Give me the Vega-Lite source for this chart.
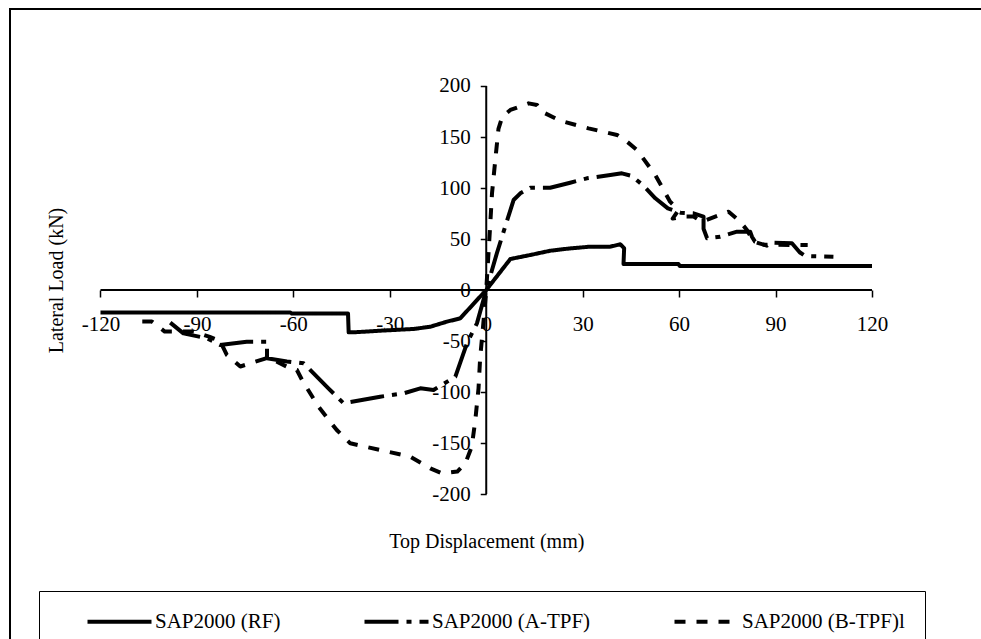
{
  "$schema": "https://vega.github.io/schema/vega-lite/v6.json",
  "width": 980,
  "height": 640,
  "autosize": {"type": "none"},
  "padding": {"left": 10, "top": 9, "right": 0, "bottom": 0},
  "background": "white",
  "config": {
    "view": {"stroke": "black", "strokeWidth": 2},
    "font": "Liberation Serif"
  },
  "datasets": {
    "xline": [{"d": -120, "d2": 120, "f": 0}],
    "yline": [{"d": 0, "f": -200, "f2": 200}],
    "curves": [
      {"s": "SAP2000 (RF)", "i": 1, "d": -120, "f": -22},
      {"s": "SAP2000 (RF)", "i": 2, "d": -61, "f": -22},
      {"s": "SAP2000 (RF)", "i": 3, "d": -60.5, "f": -23},
      {"s": "SAP2000 (RF)", "i": 4, "d": -43, "f": -23},
      {"s": "SAP2000 (RF)", "i": 5, "d": -42.8, "f": -41.5},
      {"s": "SAP2000 (RF)", "i": 6, "d": -41.3, "f": -41.5},
      {"s": "SAP2000 (RF)", "i": 7, "d": -33, "f": -39.9},
      {"s": "SAP2000 (RF)", "i": 8, "d": -22.6, "f": -38.2},
      {"s": "SAP2000 (RF)", "i": 9, "d": -17.4, "f": -36},
      {"s": "SAP2000 (RF)", "i": 10, "d": -12.2, "f": -31},
      {"s": "SAP2000 (RF)", "i": 11, "d": -8.1, "f": -27.8},
      {"s": "SAP2000 (RF)", "i": 12, "d": 0, "f": 0},
      {"s": "SAP2000 (RF)", "i": 13, "d": 7.5, "f": 30.4},
      {"s": "SAP2000 (RF)", "i": 14, "d": 13.7, "f": 34.3},
      {"s": "SAP2000 (RF)", "i": 15, "d": 19.9, "f": 38.5},
      {"s": "SAP2000 (RF)", "i": 16, "d": 26.1, "f": 40.8},
      {"s": "SAP2000 (RF)", "i": 17, "d": 32.4, "f": 42.5},
      {"s": "SAP2000 (RF)", "i": 18, "d": 38.6, "f": 42.5},
      {"s": "SAP2000 (RF)", "i": 19, "d": 41.7, "f": 44.8},
      {"s": "SAP2000 (RF)", "i": 20, "d": 42.9, "f": 41},
      {"s": "SAP2000 (RF)", "i": 21, "d": 42.7, "f": 25.5},
      {"s": "SAP2000 (RF)", "i": 22, "d": 59.8, "f": 25.5},
      {"s": "SAP2000 (RF)", "i": 23, "d": 60.2, "f": 23.5},
      {"s": "SAP2000 (RF)", "i": 24, "d": 120, "f": 23.5},

      {"s": "SAP2000 (A-TPF)", "i": 1, "d": -98.3, "f": -32},
      {"s": "SAP2000 (A-TPF)", "i": 2, "d": -94.2, "f": -42.5},
      {"s": "SAP2000 (A-TPF)", "i": 3, "d": -86.9, "f": -47.4},
      {"s": "SAP2000 (A-TPF)", "i": 4, "d": -82.8, "f": -53.9},
      {"s": "SAP2000 (A-TPF)", "i": 5, "d": -74.5, "f": -50.7},
      {"s": "SAP2000 (A-TPF)", "i": 6, "d": -68.2, "f": -50.7},
      {"s": "SAP2000 (A-TPF)", "i": 7, "d": -68.2, "f": -67},
      {"s": "SAP2000 (A-TPF)", "i": 8, "d": -62, "f": -70},
      {"s": "SAP2000 (A-TPF)", "i": 9, "d": -56.8, "f": -71.9},
      {"s": "SAP2000 (A-TPF)", "i": 10, "d": -49.1, "f": -96.4},
      {"s": "SAP2000 (A-TPF)", "i": 11, "d": -44.4, "f": -111},
      {"s": "SAP2000 (A-TPF)", "i": 12, "d": -33, "f": -104.6},
      {"s": "SAP2000 (A-TPF)", "i": 13, "d": -25.7, "f": -101.3},
      {"s": "SAP2000 (A-TPF)", "i": 14, "d": -20.5, "f": -96.4},
      {"s": "SAP2000 (A-TPF)", "i": 15, "d": -16.4, "f": -98},
      {"s": "SAP2000 (A-TPF)", "i": 16, "d": -9.6, "f": -85},
      {"s": "SAP2000 (A-TPF)", "i": 17, "d": -6, "f": -52.3},
      {"s": "SAP2000 (A-TPF)", "i": 18, "d": -2.9, "f": -32.7},
      {"s": "SAP2000 (A-TPF)", "i": 19, "d": 0, "f": 0},
      {"s": "SAP2000 (A-TPF)", "i": 20, "d": 3.3, "f": 36},
      {"s": "SAP2000 (A-TPF)", "i": 21, "d": 5.4, "f": 57.2},
      {"s": "SAP2000 (A-TPF)", "i": 22, "d": 8.5, "f": 88.2},
      {"s": "SAP2000 (A-TPF)", "i": 23, "d": 10.6, "f": 94.8},
      {"s": "SAP2000 (A-TPF)", "i": 24, "d": 13.7, "f": 100.3},
      {"s": "SAP2000 (A-TPF)", "i": 25, "d": 19.9, "f": 100.3},
      {"s": "SAP2000 (A-TPF)", "i": 26, "d": 26.1, "f": 105.2},
      {"s": "SAP2000 (A-TPF)", "i": 27, "d": 31.3, "f": 109.5},
      {"s": "SAP2000 (A-TPF)", "i": 28, "d": 38.6, "f": 112.7},
      {"s": "SAP2000 (A-TPF)", "i": 29, "d": 42.2, "f": 114.4},
      {"s": "SAP2000 (A-TPF)", "i": 30, "d": 45.3, "f": 111.8},
      {"s": "SAP2000 (A-TPF)", "i": 31, "d": 49, "f": 102},
      {"s": "SAP2000 (A-TPF)", "i": 32, "d": 52.6, "f": 89.9},
      {"s": "SAP2000 (A-TPF)", "i": 33, "d": 56.5, "f": 80},
      {"s": "SAP2000 (A-TPF)", "i": 34, "d": 60.4, "f": 75.8},
      {"s": "SAP2000 (A-TPF)", "i": 35, "d": 64.5, "f": 75.2},
      {"s": "SAP2000 (A-TPF)", "i": 36, "d": 67.6, "f": 72},
      {"s": "SAP2000 (A-TPF)", "i": 37, "d": 67.6, "f": 60},
      {"s": "SAP2000 (A-TPF)", "i": 38, "d": 68.7, "f": 50.7},
      {"s": "SAP2000 (A-TPF)", "i": 39, "d": 72.8, "f": 52.3},
      {"s": "SAP2000 (A-TPF)", "i": 40, "d": 78, "f": 57.2},
      {"s": "SAP2000 (A-TPF)", "i": 41, "d": 82.1, "f": 57.2},
      {"s": "SAP2000 (A-TPF)", "i": 42, "d": 82.7, "f": 52},
      {"s": "SAP2000 (A-TPF)", "i": 43, "d": 83.6, "f": 47.4},
      {"s": "SAP2000 (A-TPF)", "i": 44, "d": 87.3, "f": 43.5},
      {"s": "SAP2000 (A-TPF)", "i": 45, "d": 88.4, "f": 46.4},
      {"s": "SAP2000 (A-TPF)", "i": 46, "d": 95.1, "f": 45.8},
      {"s": "SAP2000 (A-TPF)", "i": 47, "d": 97.5, "f": 37},
      {"s": "SAP2000 (A-TPF)", "i": 48, "d": 99.2, "f": 33.3},
      {"s": "SAP2000 (A-TPF)", "i": 49, "d": 108, "f": 32.5},

      {"s": "SAP2000 (B-TPF)l", "i": 1, "d": -107, "f": -31},
      {"s": "SAP2000 (B-TPF)l", "i": 2, "d": -104, "f": -31},
      {"s": "SAP2000 (B-TPF)l", "i": 3, "d": -100, "f": -40.8},
      {"s": "SAP2000 (B-TPF)l", "i": 4, "d": -91, "f": -40.8},
      {"s": "SAP2000 (B-TPF)l", "i": 5, "d": -86, "f": -46},
      {"s": "SAP2000 (B-TPF)l", "i": 6, "d": -82.8, "f": -50},
      {"s": "SAP2000 (B-TPF)l", "i": 7, "d": -80.7, "f": -63.7},
      {"s": "SAP2000 (B-TPF)l", "i": 8, "d": -76.5, "f": -75},
      {"s": "SAP2000 (B-TPF)l", "i": 9, "d": -68.5, "f": -67},
      {"s": "SAP2000 (B-TPF)l", "i": 10, "d": -66.2, "f": -68.6},
      {"s": "SAP2000 (B-TPF)l", "i": 11, "d": -62, "f": -75.2},
      {"s": "SAP2000 (B-TPF)l", "i": 12, "d": -58.9, "f": -78.4},
      {"s": "SAP2000 (B-TPF)l", "i": 13, "d": -57.3, "f": -88.2},
      {"s": "SAP2000 (B-TPF)l", "i": 14, "d": -52.2, "f": -114.4},
      {"s": "SAP2000 (B-TPF)l", "i": 15, "d": -46.5, "f": -137.3},
      {"s": "SAP2000 (B-TPF)l", "i": 16, "d": -42.3, "f": -150.3},
      {"s": "SAP2000 (B-TPF)l", "i": 17, "d": -33, "f": -156.9},
      {"s": "SAP2000 (B-TPF)l", "i": 18, "d": -23.6, "f": -163.4},
      {"s": "SAP2000 (B-TPF)l", "i": 19, "d": -17.4, "f": -174.8},
      {"s": "SAP2000 (B-TPF)l", "i": 20, "d": -13.8, "f": -179.7},
      {"s": "SAP2000 (B-TPF)l", "i": 21, "d": -9, "f": -178},
      {"s": "SAP2000 (B-TPF)l", "i": 22, "d": -6.5, "f": -169.9},
      {"s": "SAP2000 (B-TPF)l", "i": 23, "d": -4.5, "f": -153.6},
      {"s": "SAP2000 (B-TPF)l", "i": 24, "d": -3.4, "f": -127.5},
      {"s": "SAP2000 (B-TPF)l", "i": 25, "d": -2.4, "f": -96.4},
      {"s": "SAP2000 (B-TPF)l", "i": 26, "d": -1.9, "f": -67},
      {"s": "SAP2000 (B-TPF)l", "i": 27, "d": -0.9, "f": -32.7},
      {"s": "SAP2000 (B-TPF)l", "i": 28, "d": 0, "f": 0},
      {"s": "SAP2000 (B-TPF)l", "i": 29, "d": 1.2, "f": 62},
      {"s": "SAP2000 (B-TPF)l", "i": 30, "d": 1.8, "f": 95},
      {"s": "SAP2000 (B-TPF)l", "i": 31, "d": 2.8, "f": 127},
      {"s": "SAP2000 (B-TPF)l", "i": 32, "d": 3.8, "f": 158},
      {"s": "SAP2000 (B-TPF)l", "i": 33, "d": 5, "f": 170},
      {"s": "SAP2000 (B-TPF)l", "i": 34, "d": 7.5, "f": 176.5},
      {"s": "SAP2000 (B-TPF)l", "i": 35, "d": 13.2, "f": 183},
      {"s": "SAP2000 (B-TPF)l", "i": 36, "d": 15.8, "f": 181.4},
      {"s": "SAP2000 (B-TPF)l", "i": 37, "d": 17.3, "f": 174.8},
      {"s": "SAP2000 (B-TPF)l", "i": 38, "d": 23, "f": 166},
      {"s": "SAP2000 (B-TPF)l", "i": 39, "d": 31.8, "f": 158.5},
      {"s": "SAP2000 (B-TPF)l", "i": 40, "d": 40.7, "f": 152},
      {"s": "SAP2000 (B-TPF)l", "i": 41, "d": 43.8, "f": 145.4},
      {"s": "SAP2000 (B-TPF)l", "i": 42, "d": 46.9, "f": 137.3},
      {"s": "SAP2000 (B-TPF)l", "i": 43, "d": 52.6, "f": 112.7},
      {"s": "SAP2000 (B-TPF)l", "i": 44, "d": 57.2, "f": 86.6},
      {"s": "SAP2000 (B-TPF)l", "i": 45, "d": 59.8, "f": 78.4},
      {"s": "SAP2000 (B-TPF)l", "i": 46, "d": 58, "f": 70},
      {"s": "SAP2000 (B-TPF)l", "i": 47, "d": 61, "f": 72},
      {"s": "SAP2000 (B-TPF)l", "i": 48, "d": 64.5, "f": 72},
      {"s": "SAP2000 (B-TPF)l", "i": 49, "d": 67.1, "f": 67},
      {"s": "SAP2000 (B-TPF)l", "i": 50, "d": 75.4, "f": 76.8},
      {"s": "SAP2000 (B-TPF)l", "i": 51, "d": 79, "f": 67},
      {"s": "SAP2000 (B-TPF)l", "i": 52, "d": 81.1, "f": 58.8},
      {"s": "SAP2000 (B-TPF)l", "i": 53, "d": 83.2, "f": 47.4},
      {"s": "SAP2000 (B-TPF)l", "i": 54, "d": 86.3, "f": 44.4},
      {"s": "SAP2000 (B-TPF)l", "i": 55, "d": 100, "f": 44}
    ]
  },
  "encoding": {
    "x": {
      "field": "d",
      "type": "quantitative",
      "scale": {"domain": [-148.15, 156.71], "nice": false, "zero": false},
      "axis": {
        "values": [-120, -90, -60, -30, 0, 30, 60, 90, 120],
        "domain": false,
        "grid": false,
        "offset": -359,
        "tickSize": 7,
        "tickColor": "black",
        "tickWidth": 1.5,
        "labelFont": "Liberation Serif",
        "labelFontSize": 21,
        "labelColor": "black",
        "labelPadding": 16,
        "labelExpr": "'' + datum.value",
        "labelFlush": false,
        "labelOverlap": false,
        "title": "Top Displacement (mm)",
        "titleFont": "Liberation Serif",
        "titleFontSize": 20,
        "titleFontWeight": "normal",
        "titleColor": "black",
        "titleX": 476.25,
        "titleY": 257,
        "titleAlign": "center",
        "titleBaseline": "alphabetic"
      }
    },
    "y": {
      "field": "f",
      "type": "quantitative",
      "scale": {"domain": [-351.96, 275.49], "nice": false, "zero": false},
      "axis": {
        "values": [-200, -150, -100, -50, 0, 50, 100, 150, 200],
        "domain": false,
        "grid": false,
        "offset": -476.25,
        "tickSize": 6,
        "tickColor": "black",
        "tickWidth": 1.5,
        "labelFont": "Liberation Serif",
        "labelFontSize": 21,
        "labelColor": "black",
        "labelPadding": 10,
        "labelExpr": "'' + datum.value",
        "labelOverlap": false,
        "labelFlush": false,
        "title": "Lateral Load (kN)",
        "titleFont": "Liberation Serif",
        "titleFontSize": 20,
        "titleFontWeight": "normal",
        "titleColor": "black",
        "titleX": -424.25,
        "titleY": 271,
        "titleAngle": -90,
        "titleAlign": "center",
        "titleBaseline": "alphabetic"
      }
    }
  },
  "layer": [
    {
      "data": {"name": "xline"},
      "mark": {"type": "rule", "color": "black", "strokeWidth": 2},
      "encoding": {"x2": {"field": "d2"}}
    },
    {
      "data": {"name": "yline"},
      "mark": {"type": "rule", "color": "black", "strokeWidth": 2},
      "encoding": {"y2": {"field": "f2"}}
    },
    {
      "data": {"name": "curves"},
      "mark": {"type": "line", "color": "black", "strokeWidth": 4, "strokeCap": "butt", "strokeJoin": "round"},
      "encoding": {
        "order": {"field": "i", "type": "quantitative"},
        "strokeDash": {
          "field": "s",
          "type": "nominal",
          "scale": {
            "domain": ["SAP2000 (RF)", "SAP2000 (A-TPF)", "SAP2000 (B-TPF)l"],
            "range": [[1, 0], [34, 8, 5, 8], [11, 11]]
          },
          "legend": {
            "orient": "none",
            "legendX": 29,
            "legendY": 582,
            "direction": "horizontal",
            "title": null,
            "symbolType": "M-4,0H4",
            "symbolSize": 256,
            "symbolStrokeWidth": 4,
            "symbolStrokeColor": "black",
            "symbolFillColor": "transparent",
            "labelFont": "Liberation Serif",
            "labelFontSize": 21,
            "labelColor": "black",
            "labelOffset": 25,
            "labelLimit": 400,
            "labelExpr": "indexof(datum.label, 'B-TPF') >= 0 ? datum.label + '\u00a0\u00a0\u00a0\u00a0\u00a0\u00a0' : datum.label",
            "columnPadding": 55,
            "padding": 20,
            "symbolOffset": 50,
            "strokeColor": "black"
          }
        }
      }
    }
  ]
}
